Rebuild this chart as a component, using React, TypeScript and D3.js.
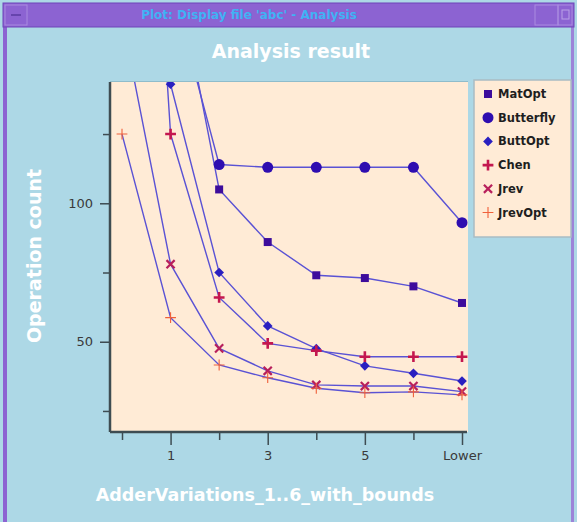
import * as d3 from "d3";
import { useEffect, useRef } from "react";

// x positions (0 .. 6 are variations, 7 is the "Lower" bound)
const xValues = [0, 1, 2, 3, 4, 5, 6, 7];
const xTickLabels = ["", "1", "", "3", "", "5", "", "Lower"];
const yTicks = [25, 50, 75, 100, 125];
const yTickLabels = ["", "50", "", "100", ""];

const seriesNames = ["MatOpt", "Butterfly", "ButtOpt", "Chen", "Jrev", "JrevOpt"];

// values, null where the point is off the chart and unknown
const matOpt = [null, 195, 105, 86, 74, 73, 70, 64];
const butterfly = [null, 180, 114, 113, 113, 113, 113, 93];
const buttOpt = [null, 143, 75, 55.7, 47.5, 41.3, 38.6, 35.8];
const chen = [400, 125, 66, 49.4, 46.8, 44.6, 44.6, 44.6];
const jrev = [167, 78, 47.6, 39.5, 34.4, 34, 34, 32];
const jrevOpt = [125, 58.7, 41.6, 37, 33.2, 31.6, 31.9, 30.8];

const allSeries = [matOpt, butterfly, buttOpt, chen, jrev, jrevOpt];

export default function App() {
    const ref = useRef<SVGSVGElement>(null);

    useEffect(() => {
        document.body.style.margin = "0";

        const width = 577;
        const height = 522;
        const plot = { left: 110, top: 82, right: 468, bottom: 432 };

        const svg = d3.select(ref.current)
            .attr("width", width)
            .attr("height", height);

        svg.selectAll("*").remove();

        // window background and frame
        svg.append("rect").attr("width", width).attr("height", height).attr("fill", "#add8e6");
        svg.append("rect").attr("x", 3).attr("y", 3).attr("width", 4).attr("height", height).attr("fill", "#8c63d2");
        svg.append("rect").attr("x", 571).attr("y", 3).attr("width", 3).attr("height", height).attr("fill", "#9c84d8");
        svg.append("rect").attr("x", 3).attr("y", 3).attr("width", 571).attr("height", 24)
            .attr("fill", "#8c63d2").attr("stroke", "#6e44b8").attr("stroke-width", 1);
        svg.append("rect").attr("x", 5).attr("y", 5).attr("width", 22).attr("height", 20)
            .attr("fill", "none").attr("stroke", "#a98be0");
        svg.append("line").attr("x1", 11).attr("x2", 21).attr("y1", 15).attr("y2", 15).attr("stroke", "#5a3aa0").attr("stroke-width", 1.5);
        svg.append("rect").attr("x", 535).attr("y", 5).attr("width", 23).attr("height", 20)
            .attr("fill", "none").attr("stroke", "#a98be0");
        svg.append("rect").attr("x", 558).attr("y", 5).attr("width", 14).attr("height", 20)
            .attr("fill", "none").attr("stroke", "#a98be0");
        svg.append("rect").attr("x", 562).attr("y", 10).attr("width", 7).attr("height", 9)
            .attr("fill", "none").attr("stroke", "#b9a2e6");
        svg.append("text").attr("x", 249).attr("y", 19).attr("text-anchor", "middle")
            .attr("fill", "#40b2f4").style("font", "bold 12px 'DejaVu Sans'")
            .text("Plot: Display file 'abc' - Analysis");

        // titles
        svg.append("text").attr("x", 291).attr("y", 58).attr("text-anchor", "middle")
            .attr("fill", "#ffffff").style("font", "bold 19px 'DejaVu Sans'")
            .text("Analysis result");
        svg.append("text").attr("x", 265).attr("y", 501).attr("text-anchor", "middle")
            .attr("fill", "#ffffff").style("font", "bold 17.5px 'DejaVu Sans'")
            .text("AdderVariations_1..6_with_bounds");
        svg.append("text").attr("transform", "translate(41,256) rotate(-90)").attr("text-anchor", "middle")
            .attr("fill", "#ffffff").style("font", "bold 19px 'DejaVu Sans'")
            .text("Operation count");

        // scales
        const x = d3.scaleLinear().domain([0, 7]).range([plot.left + 12, plot.right - 6]);
        const y = d3.scaleLinear().domain([17.4, 143.8]).range([plot.bottom, plot.top]);

        // plot background
        svg.append("rect")
            .attr("x", plot.left).attr("y", plot.top)
            .attr("width", plot.right - plot.left).attr("height", plot.bottom - plot.top)
            .attr("fill", "#ffebd6");
        svg.append("line").attr("x1", plot.left).attr("x2", plot.right).attr("y1", plot.top - 0.5).attr("y2", plot.top - 0.5)
            .attr("stroke", "#8fbccb").attr("stroke-width", 1);

        svg.append("clipPath").attr("id", "plotClip")
            .append("rect")
            .attr("x", plot.left).attr("y", plot.top)
            .attr("width", plot.right - plot.left).attr("height", plot.bottom - plot.top);

        const axisColor = "#3e4c52";

        // X axis
        const xAxis = svg.append("g")
            .attr("transform", `translate(0,${plot.bottom})`)
            .call(d3.axisBottom(x).tickValues(xValues).tickFormat((d, i) => xTickLabels[i]).tickSize(8).tickPadding(6));
        xAxis.select(".domain").remove();
        xAxis.selectAll(".tick line").attr("stroke", axisColor).attr("stroke-width", 1.5)
            .attr("y2", (d, i) => (xTickLabels[i] ? 13 : 8));
        xAxis.selectAll(".tick text").attr("fill", "#3a3a3a")
            .attr("y", 19)
            .style("font", "13px 'DejaVu Sans'");
        svg.append("line").attr("x1", plot.left).attr("x2", plot.right - 1)
            .attr("y1", plot.bottom).attr("y2", plot.bottom)
            .attr("stroke", axisColor).attr("stroke-width", 2.5);

        // Y axis
        const yAxis = svg.append("g")
            .attr("transform", `translate(${plot.left},0)`)
            .call(d3.axisLeft(y).tickValues(yTicks).tickFormat((d, i) => yTickLabels[i]).tickSize(8).tickPadding(8));
        yAxis.select(".domain").remove();
        yAxis.selectAll(".tick line").attr("stroke", axisColor).attr("stroke-width", 1.5)
            .attr("x2", (d, i) => (yTickLabels[i] ? -10 : -7));
        yAxis.selectAll(".tick text").attr("fill", "#3a3a3a")
            .attr("x", -17)
            .style("font", "13px 'DejaVu Sans'");
        svg.append("line").attr("x1", plot.left).attr("x2", plot.left)
            .attr("y1", plot.top).attr("y2", plot.bottom)
            .attr("stroke", axisColor).attr("stroke-width", 2.5);

        // series lines
        const line = d3.line<number | null>()
            .defined(d => d != null)
            .x((d, i) => x(xValues[i]))
            .y(d => y(d as number));

        const lineGroup = svg.append("g").attr("clip-path", "url(#plotClip)");
        lineGroup.selectAll(".series")
            .data(allSeries)
            .join("path")
            .classed("series", true)
            .attr("d", d => line(d))
            .attr("fill", "none")
            .attr("stroke", "#5a52d4")
            .attr("stroke-width", 1.4);

        // markers
        const markers = [
            { type: d3.symbolSquare, size: 64, color: "#3d0c9c", filled: true, sw: 0 },
            { type: d3.symbolCircle, size: 95, color: "#2e0db0", filled: true, sw: 0 },
            { type: d3.symbolDiamond2, size: 60, color: "#2a1fc0", filled: true, sw: 0 },
            { type: d3.symbolPlus, size: 40, color: "#c4174f", filled: false, sw: 2.6 },
            { type: d3.symbolTimes, size: 45, color: "#b8205c", filled: false, sw: 2.2 },
            { type: d3.symbolPlus, size: 40, color: "#f0603a", filled: false, sw: 1.1 },
        ];

        const markerGroup = svg.append("g").attr("clip-path", "url(#plotClip)");
        allSeries.forEach((values, s) => {
            const m = markers[s];
            markerGroup.selectAll(`.m${s}`)
                .data(values.map((v, i) => ({ v, i })).filter(p => p.v != null))
                .join("path")
                .classed(`m${s}`, true)
                .attr("transform", p => `translate(${x(xValues[p.i])},${y(p.v as number)})`)
                .attr("d", d3.symbol().type(m.type).size(m.size)())
                .attr("fill", m.filled ? m.color : "none")
                .attr("stroke", m.filled ? "none" : m.color)
                .attr("stroke-width", m.sw);
        });

        // legend
        const legend = svg.append("g");
        legend.append("rect")
            .attr("x", 474).attr("y", 80).attr("width", 97).attr("height", 157)
            .attr("fill", "#ffebd6").attr("stroke", "#a9bcc4").attr("stroke-width", 1.5);
        seriesNames.forEach((name, s) => {
            const m = markers[s];
            const cy = 94 + s * 23.7;
            legend.append("path")
                .attr("transform", `translate(488,${cy})`)
                .attr("d", d3.symbol().type(m.type).size(m.size)())
                .attr("fill", m.filled ? m.color : "none")
                .attr("stroke", m.filled ? "none" : m.color)
                .attr("stroke-width", m.sw);
            legend.append("text")
                .attr("x", 498).attr("y", cy + 4)
                .attr("fill", "#1e1e1e")
                .style("font", "bold 11.5px 'DejaVu Sans'")
                .text(name);
        });
    }, []);

    return (
        <div style={{ position: "absolute", left: 0, top: 0 }}>
            <svg ref={ref} style={{ display: "block" }}></svg>
        </div>
    );
}
